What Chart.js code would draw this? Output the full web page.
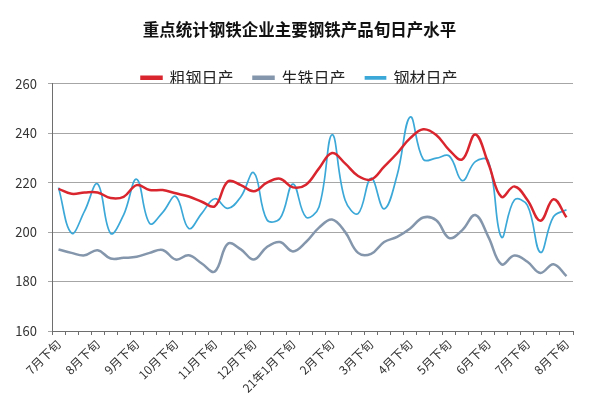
<!DOCTYPE html>
<html>
<head>
<meta charset="utf-8">
<script src="https://cdn.jsdelivr.net/npm/chart.js@4"></script>
<style>
  html, body { margin: 0; padding: 0; background: #fff; }
  #wrap { width: 599px; height: 397px; }
</style>
</head>
<body>
<div id="wrap"><canvas id="canvas"></canvas></div>
<script>
// 40 ten-day periods, from 2020 July (late) to 2021 August (late)
const tickLabels = ["7月下旬", "8月下旬", "9月下旬", "10月下旬", "11月下旬", "12月下旬", "21年1月下旬",
                    "2月下旬", "3月下旬", "4月下旬", "5月下旬", "6月下旬", "7月下旬", "8月下旬"];
const periods = [];
for (let i = 0; i < 40; i++) {
    periods.push(i % 3 === 0 ? tickLabels[i / 3] : "");
}

const crudeSteel = [217.5, 215.5, 216, 216, 213.8, 214.3, 219, 217, 217, 215.7,
                    214.4, 212.3, 210.5, 220.5, 219, 216.5, 220, 221.6, 218.1, 219.2,
                    225.8, 232, 227.8, 222.7, 221.3, 226.5, 231.9, 238, 241.6, 239.3,
                    233.2, 229.4, 239.5, 227.8, 214.3, 218.5, 213, 204.6, 213.3, 206];
const pigIron = [193, 191.6, 190.6, 192.7, 189.3, 189.6, 190, 191.6, 192.8, 188.9,
                 190.6, 187.3, 184.1, 195.3, 193, 188.9, 194, 196, 192.2, 196,
                 201.8, 205.1, 200.1, 191.6, 191.2, 196, 198.1, 201.5, 205.9, 204.8,
                 197.6, 200.8, 206.9, 198.1, 187, 190.5, 188, 183.5, 187, 182.2];
const steelProducts = [218, 199.6, 208.5, 219.5, 199.5, 207, 221.4, 203.5, 208, 214.4,
                       201.5, 207.6, 213.5, 209.6, 214.3, 224, 205, 205.5, 219.4, 206.1,
                       210.2, 239.4, 213, 207.5, 221.8, 209.4, 223.1, 246.6, 229.5, 229.9,
                       230.8, 220.8, 228.5, 228.8, 198, 213, 210.8, 191.8, 206.2, 209];

const fontFamily = "'Noto Sans CJK SC', 'Noto Sans', sans-serif";

const canvas = document.getElementById("canvas");
const ctx = canvas.getContext("2d");

// legend sits right on top of the plot, so shave some of its box height
const legendTrim = {
    id: "legendTrim",
    beforeLayout(chart) {
        const lg = chart.legend;
        if (lg && !lg._trimmed) {
            const fit = lg.fit;
            lg.fit = function() {
                fit.call(this);
                this.height -= 12;
            };
            lg._trimmed = true;
        }
    }
};

new Chart(ctx, {
    type: "line",
    data: {
        labels: periods,
        datasets: [
            {
                label: "粗钢日产",
                data: crudeSteel,
                borderColor: "#d9262e",
                backgroundColor: "#d9262e",
                borderWidth: 2.5,
                pointRadius: 0,
                tension: 0.4
            },
            {
                label: "生铁日产",
                data: pigIron,
                borderColor: "#8496ab",
                backgroundColor: "#8496ab",
                borderWidth: 2.5,
                pointRadius: 0,
                tension: 0.4
            },
            {
                label: "钢材日产",
                data: steelProducts,
                borderColor: "#3ba8d8",
                backgroundColor: "#3ba8d8",
                borderWidth: 1.7,
                pointRadius: 0,
                tension: 0.4
            }
        ]
    },
    plugins: [legendTrim],
    options: {
        responsive: true,
        maintainAspectRatio: false,
        animation: false,
        layout: { padding: 0 },
        plugins: {
            title: {
                display: true,
                text: "重点统计钢铁企业主要钢铁产品旬日产水平",
                color: "#111",
                font: { family: fontFamily, size: 16.5, weight: "bold" },
                padding: { top: 20, bottom: 10 }
            },
            legend: {
                display: true,
                labels: {
                    color: "#222",
                    font: { family: fontFamily, size: 16 },
                    boxWidth: 20,
                    boxHeight: 2,
                    padding: 20
                }
            },
            tooltip: { enabled: false }
        },
        scales: {
            x: {
                offset: true,
                afterFit: s => { s.height = 66; },
                grid: {
                    offset: true,
                    drawOnChartArea: false,
                    drawTicks: true,
                    tickLength: 4,
                    color: "#6e6e6e"
                },
                border: { color: "#6e6e6e", width: 1 },
                ticks: {
                    autoSkip: false,
                    maxRotation: 45,
                    minRotation: 45,
                    padding: 2,
                    color: "#333",
                    font: { family: fontFamily, size: 12 }
                }
            },
            y: {
                min: 160,
                max: 260,
                afterFit: s => { s.width = 52; },
                grid: {
                    color: "#a6a6a6",
                    tickLength: 4,
                    drawTicks: true
                },
                border: { color: "#6e6e6e", width: 1 },
                ticks: {
                    stepSize: 20,
                    padding: 11,
                    color: "#333",
                    font: { family: fontFamily, size: 13 }
                }
            },
            // empty right-hand axis only keeps room at the right edge
            yRight: {
                position: "right",
                min: 160,
                max: 260,
                afterFit: s => { s.width = 26; },
                grid: { drawOnChartArea: false, drawTicks: false },
                border: { display: false },
                ticks: { display: false }
            }
        }
    }
});
</script>
</body>
</html>
